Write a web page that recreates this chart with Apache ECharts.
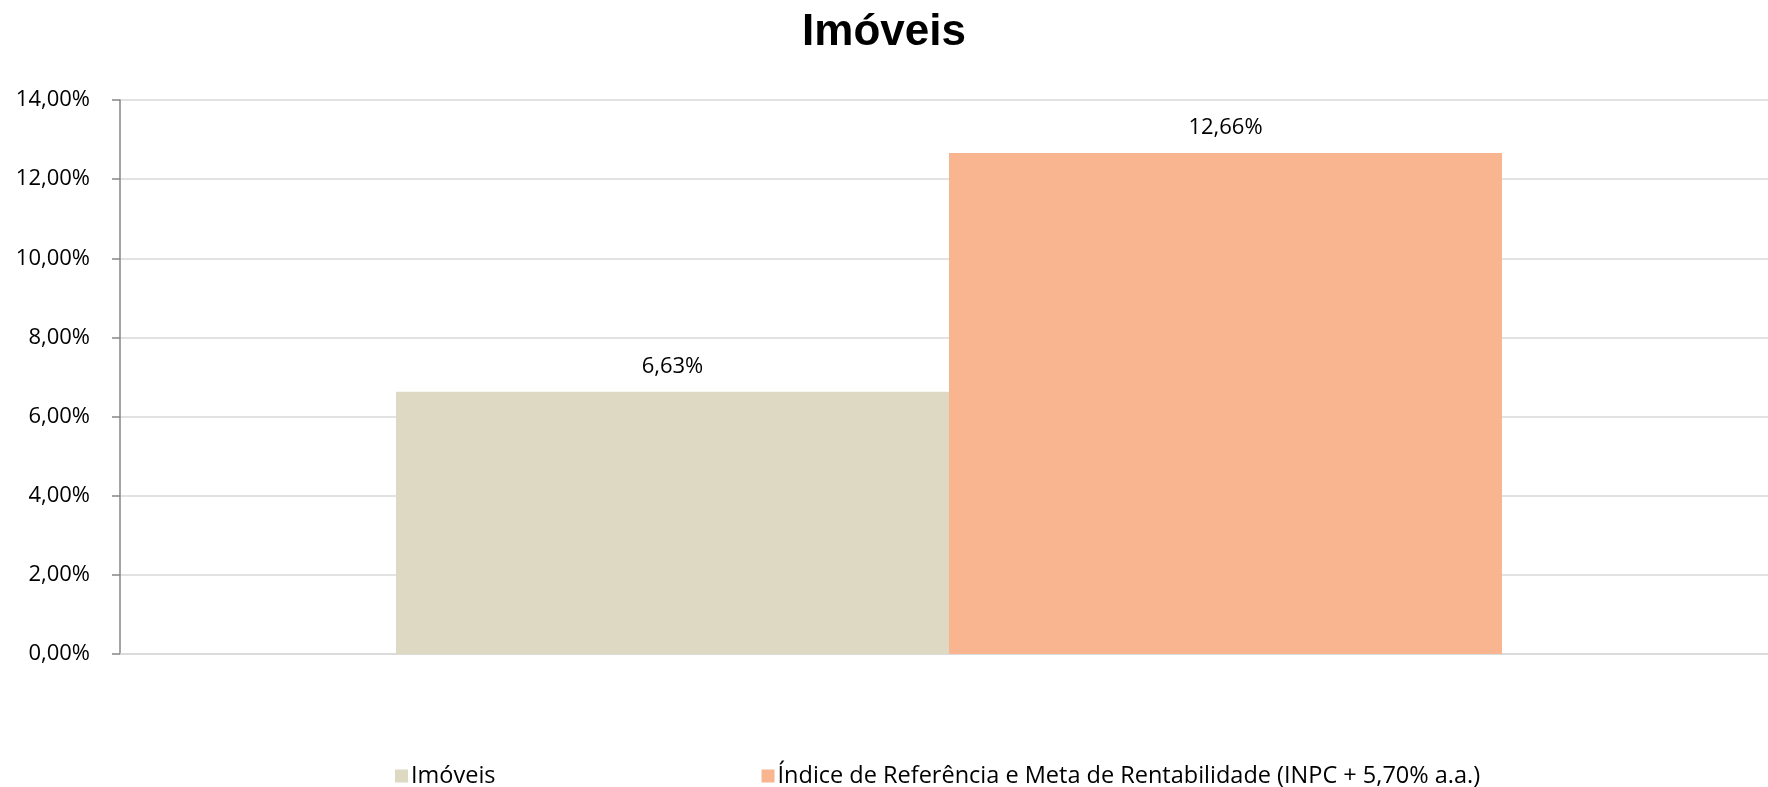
<!DOCTYPE html>
<html>
<head>
<meta charset="utf-8">
<script src="https://cdn.jsdelivr.net/npm/echarts@6/dist/echarts.min.js"></script>
<style>
html,body{margin:0;padding:0;background:#fff;}
#chart{width:1768px;height:787px;}
</style>
</head>
<body>
<div id="chart"></div>
<script>
const titleText = 'Imóveis';
const categories = [''];
const seriesNames = ['Imóveis', 'Índice de Referência e Meta de Rentabilidade (INPC + 5,70% a.a.)'];
const imoveisValues = [6.63];
const indiceValues = [12.66];
const seriesColors = ['#DDD9C3', '#F8B590'];

const fmt = v => v.toFixed(2).replace('.', ',') + '%';
const FONT = '"Open Sans", sans-serif';

const chart = echarts.init(document.getElementById('chart'), null, {renderer: 'canvas'});
chart.setOption({
  animation: false,
  backgroundColor: '#ffffff',
  title: {
    text: titleText,
    left: 'center',
    top: 6,
    textStyle: {fontFamily: '"Liberation Sans", Arial, sans-serif', fontWeight: 'bold', fontSize: 44, color: '#000'}
  },
  legend: {
    left: 390,
    top: 759,
    itemWidth: 13,
    itemHeight: 13,
    itemGap: 266,
    icon: 'rect',
    textStyle: {fontFamily: FONT, fontSize: 23.5, color: '#000', padding: [0, 0, 0, -2]},
    data: seriesNames
  },
  grid: {left: 120, width: 1658, top: 100, bottom: 133, containLabel: false, outerBoundsMode: 'none'},
  xAxis: {
    type: 'category',
    data: categories,
    axisLine: {show: true, lineStyle: {color: '#D9D9D9', width: 1.5}},
    axisTick: {show: false},
    axisLabel: {show: false}
  },
  yAxis: {
    type: 'value',
    min: 0,
    max: 14,
    interval: 2,
    axisLine: {show: true, lineStyle: {color: '#868686', width: 1.5}},
    axisTick: {show: true, length: 8, lineStyle: {color: '#868686', width: 1.5}},
    axisLabel: {fontFamily: FONT, fontSize: 22, color: '#000', margin: 30, formatter: fmt},
    splitLine: {show: true, lineStyle: {color: '#D9D9D9', width: 1.5}}
  },
  series: [
    {
      name: seriesNames[0],
      type: 'bar',
      data: imoveisValues,
      barWidth: 553,
      barGap: '0%',
      itemStyle: {color: seriesColors[0]},
      label: {show: true, position: 'top', distance: 14, fontFamily: FONT, fontSize: 22, color: '#000', formatter: p => fmt(p.value)}
    },
    {
      name: seriesNames[1],
      type: 'bar',
      data: indiceValues,
      barWidth: 553,
      barGap: '0%',
      itemStyle: {color: seriesColors[1]},
      label: {show: true, position: 'top', distance: 14, fontFamily: FONT, fontSize: 22, color: '#000', formatter: p => fmt(p.value)}
    }
  ]
});
</script>
</body>
</html>
